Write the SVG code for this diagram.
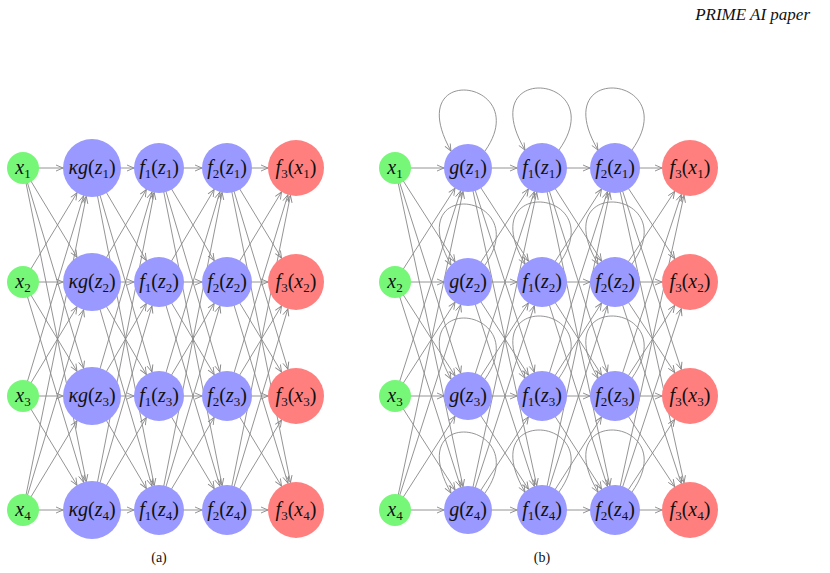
<svg xmlns="http://www.w3.org/2000/svg" width="830" height="573" viewBox="0 0 830 573">
<style>
.e line,.e path{stroke:#888;stroke-width:0.9;fill:none}
.m24{marker-end:url(#m24)}.m25{marker-end:url(#m25)}.m28{marker-end:url(#m28)}.m29{marker-end:url(#m29)}.m0{marker-end:url(#m0)}
.in{fill:#77f777}.hid{fill:#9999ff}.out{fill:#ff7f7f}
text{font-family:"Liberation Serif",serif;font-style:italic;font-size:20px;fill:#111;text-anchor:middle}
.s{font-size:13px}
.up{font-style:normal}
</style>
<defs>
<marker id="m24" markerUnits="userSpaceOnUse" refX="31" refY="0" markerWidth="80" markerHeight="10" viewBox="-1 -4 80 8" orient="auto" overflow="visible"><path d="M0,-3 L7,0 L0,3" fill="none" stroke="#888" stroke-width="0.9"/></marker>
<marker id="m25" markerUnits="userSpaceOnUse" refX="32" refY="0" markerWidth="80" markerHeight="10" viewBox="-1 -4 80 8" orient="auto" overflow="visible"><path d="M0,-3 L7,0 L0,3" fill="none" stroke="#888" stroke-width="0.9"/></marker>
<marker id="m28" markerUnits="userSpaceOnUse" refX="35" refY="0" markerWidth="80" markerHeight="10" viewBox="-1 -4 80 8" orient="auto" overflow="visible"><path d="M0,-3 L7,0 L0,3" fill="none" stroke="#888" stroke-width="0.9"/></marker>
<marker id="m29" markerUnits="userSpaceOnUse" refX="36" refY="0" markerWidth="80" markerHeight="10" viewBox="-1 -4 80 8" orient="auto" overflow="visible"><path d="M0,-3 L7,0 L0,3" fill="none" stroke="#888" stroke-width="0.9"/></marker>
<marker id="m0" markerUnits="userSpaceOnUse" refX="7" refY="0" markerWidth="10" markerHeight="10" viewBox="-1 -4 10 8" orient="auto" overflow="visible"><path d="M0,-3 L7,0 L0,3" fill="none" stroke="#888" stroke-width="0.9"/></marker>
</defs>
<text x="810" y="20" style="font-size:17px;text-anchor:end">PRIME AI paper</text>
<g id="connectors" class="e">
<g class="m29">
<line x1="23" y1="168" x2="92" y2="168"/><line x1="23" y1="168" x2="92" y2="282"/><line x1="23" y1="168" x2="92" y2="396"/><line x1="23" y1="168" x2="92" y2="510"/>
<line x1="23" y1="282" x2="92" y2="168"/><line x1="23" y1="282" x2="92" y2="282"/><line x1="23" y1="282" x2="92" y2="396"/><line x1="23" y1="282" x2="92" y2="510"/>
<line x1="23" y1="396" x2="92" y2="168"/><line x1="23" y1="396" x2="92" y2="282"/><line x1="23" y1="396" x2="92" y2="396"/><line x1="23" y1="396" x2="92" y2="510"/>
<line x1="23" y1="510" x2="92" y2="168"/><line x1="23" y1="510" x2="92" y2="282"/><line x1="23" y1="510" x2="92" y2="396"/><line x1="23" y1="510" x2="92" y2="510"/>
</g>
<g class="m25">
<line x1="92" y1="168" x2="159" y2="168"/><line x1="92" y1="168" x2="159" y2="282"/><line x1="92" y1="168" x2="159" y2="396"/><line x1="92" y1="168" x2="159" y2="510"/>
<line x1="92" y1="282" x2="159" y2="168"/><line x1="92" y1="282" x2="159" y2="282"/><line x1="92" y1="282" x2="159" y2="396"/><line x1="92" y1="282" x2="159" y2="510"/>
<line x1="92" y1="396" x2="159" y2="168"/><line x1="92" y1="396" x2="159" y2="282"/><line x1="92" y1="396" x2="159" y2="396"/><line x1="92" y1="396" x2="159" y2="510"/>
<line x1="92" y1="510" x2="159" y2="168"/><line x1="92" y1="510" x2="159" y2="282"/><line x1="92" y1="510" x2="159" y2="396"/><line x1="92" y1="510" x2="159" y2="510"/>
<line x1="159" y1="168" x2="227" y2="168"/><line x1="159" y1="168" x2="227" y2="282"/><line x1="159" y1="168" x2="227" y2="396"/><line x1="159" y1="168" x2="227" y2="510"/>
<line x1="159" y1="282" x2="227" y2="168"/><line x1="159" y1="282" x2="227" y2="282"/><line x1="159" y1="282" x2="227" y2="396"/><line x1="159" y1="282" x2="227" y2="510"/>
<line x1="159" y1="396" x2="227" y2="168"/><line x1="159" y1="396" x2="227" y2="282"/><line x1="159" y1="396" x2="227" y2="396"/><line x1="159" y1="396" x2="227" y2="510"/>
<line x1="159" y1="510" x2="227" y2="168"/><line x1="159" y1="510" x2="227" y2="282"/><line x1="159" y1="510" x2="227" y2="396"/><line x1="159" y1="510" x2="227" y2="510"/>
</g>
<g class="m28">
<line x1="227" y1="168" x2="296" y2="168"/><line x1="227" y1="168" x2="296" y2="282"/><line x1="227" y1="168" x2="296" y2="396"/><line x1="227" y1="168" x2="296" y2="510"/>
<line x1="227" y1="282" x2="296" y2="168"/><line x1="227" y1="282" x2="296" y2="282"/><line x1="227" y1="282" x2="296" y2="396"/><line x1="227" y1="282" x2="296" y2="510"/>
<line x1="227" y1="396" x2="296" y2="168"/><line x1="227" y1="396" x2="296" y2="282"/><line x1="227" y1="396" x2="296" y2="396"/><line x1="227" y1="396" x2="296" y2="510"/>
<line x1="227" y1="510" x2="296" y2="168"/><line x1="227" y1="510" x2="296" y2="282"/><line x1="227" y1="510" x2="296" y2="396"/><line x1="227" y1="510" x2="296" y2="510"/>
</g>
<g class="m24">
<line x1="395" y1="168" x2="468" y2="168"/><line x1="395" y1="168" x2="468" y2="282"/><line x1="395" y1="168" x2="468" y2="396"/><line x1="395" y1="168" x2="468" y2="510"/>
<line x1="395" y1="282" x2="468" y2="168"/><line x1="395" y1="282" x2="468" y2="282"/><line x1="395" y1="282" x2="468" y2="396"/><line x1="395" y1="282" x2="468" y2="510"/>
<line x1="395" y1="396" x2="468" y2="168"/><line x1="395" y1="396" x2="468" y2="282"/><line x1="395" y1="396" x2="468" y2="396"/><line x1="395" y1="396" x2="468" y2="510"/>
<line x1="395" y1="510" x2="468" y2="168"/><line x1="395" y1="510" x2="468" y2="282"/><line x1="395" y1="510" x2="468" y2="396"/><line x1="395" y1="510" x2="468" y2="510"/>
</g>
<g class="m25">
<line x1="468" y1="168" x2="542" y2="168"/><line x1="468" y1="168" x2="542" y2="282"/><line x1="468" y1="168" x2="542" y2="396"/><line x1="468" y1="168" x2="542" y2="510"/>
<line x1="468" y1="282" x2="542" y2="168"/><line x1="468" y1="282" x2="542" y2="282"/><line x1="468" y1="282" x2="542" y2="396"/><line x1="468" y1="282" x2="542" y2="510"/>
<line x1="468" y1="396" x2="542" y2="168"/><line x1="468" y1="396" x2="542" y2="282"/><line x1="468" y1="396" x2="542" y2="396"/><line x1="468" y1="396" x2="542" y2="510"/>
<line x1="468" y1="510" x2="542" y2="168"/><line x1="468" y1="510" x2="542" y2="282"/><line x1="468" y1="510" x2="542" y2="396"/><line x1="468" y1="510" x2="542" y2="510"/>
<line x1="542" y1="168" x2="615" y2="168"/><line x1="542" y1="168" x2="615" y2="282"/><line x1="542" y1="168" x2="615" y2="396"/><line x1="542" y1="168" x2="615" y2="510"/>
<line x1="542" y1="282" x2="615" y2="168"/><line x1="542" y1="282" x2="615" y2="282"/><line x1="542" y1="282" x2="615" y2="396"/><line x1="542" y1="282" x2="615" y2="510"/>
<line x1="542" y1="396" x2="615" y2="168"/><line x1="542" y1="396" x2="615" y2="282"/><line x1="542" y1="396" x2="615" y2="396"/><line x1="542" y1="396" x2="615" y2="510"/>
<line x1="542" y1="510" x2="615" y2="168"/><line x1="542" y1="510" x2="615" y2="282"/><line x1="542" y1="510" x2="615" y2="396"/><line x1="542" y1="510" x2="615" y2="510"/>
</g>
<g class="m28">
<line x1="615" y1="168" x2="690" y2="168"/><line x1="615" y1="168" x2="690" y2="282"/><line x1="615" y1="168" x2="690" y2="396"/><line x1="615" y1="168" x2="690" y2="510"/>
<line x1="615" y1="282" x2="690" y2="168"/><line x1="615" y1="282" x2="690" y2="282"/><line x1="615" y1="282" x2="690" y2="396"/><line x1="615" y1="282" x2="690" y2="510"/>
<line x1="615" y1="396" x2="690" y2="168"/><line x1="615" y1="396" x2="690" y2="282"/><line x1="615" y1="396" x2="690" y2="396"/><line x1="615" y1="396" x2="690" y2="510"/>
<line x1="615" y1="510" x2="690" y2="168"/><line x1="615" y1="510" x2="690" y2="282"/><line x1="615" y1="510" x2="690" y2="396"/><line x1="615" y1="510" x2="690" y2="510"/>
</g>
<g class="m0">
<path d="M485,151 C535,80 400,60 451,151"/><path d="M559,150 C612,75 472,60 525,150"/><path d="M632,150 C685,75 545,60 598,150"/>
<path d="M485,265 C535,194 400,174 451,265"/><path d="M559,264 C612,189 472,174 525,264"/><path d="M632,264 C685,189 545,174 598,264"/>
<path d="M485,379 C535,308 400,288 451,379"/><path d="M559,378 C612,303 472,288 525,378"/><path d="M632,378 C685,303 545,288 598,378"/>
<path d="M485,493 C535,422 400,402 451,493"/><path d="M559,492 C612,417 472,402 525,492"/><path d="M632,492 C685,417 545,402 598,492"/>
</g>
</g>
<g id="a-x1"><circle class="in" cx="23" cy="168" r="16"/><text x="23" y="174">x<tspan class="s up" dy="4">1</tspan></text></g>
<g id="a-x2"><circle class="in" cx="23" cy="282" r="16"/><text x="23" y="288">x<tspan class="s up" dy="4">2</tspan></text></g>
<g id="a-x3"><circle class="in" cx="23" cy="396" r="16"/><text x="23" y="402">x<tspan class="s up" dy="4">3</tspan></text></g>
<g id="a-x4"><circle class="in" cx="23" cy="510" r="16"/><text x="23" y="516">x<tspan class="s up" dy="4">4</tspan></text></g>
<g id="a-g1"><circle class="hid" cx="92" cy="168" r="29"/><text x="92" y="174">κg<tspan class="up">(</tspan>z<tspan class="s up" dy="4">1</tspan><tspan class="up" dy="-4">)</tspan></text></g>
<g id="a-g2"><circle class="hid" cx="92" cy="282" r="29"/><text x="92" y="288">κg<tspan class="up">(</tspan>z<tspan class="s up" dy="4">2</tspan><tspan class="up" dy="-4">)</tspan></text></g>
<g id="a-g3"><circle class="hid" cx="92" cy="396" r="29"/><text x="92" y="402">κg<tspan class="up">(</tspan>z<tspan class="s up" dy="4">3</tspan><tspan class="up" dy="-4">)</tspan></text></g>
<g id="a-g4"><circle class="hid" cx="92" cy="510" r="29"/><text x="92" y="516">κg<tspan class="up">(</tspan>z<tspan class="s up" dy="4">4</tspan><tspan class="up" dy="-4">)</tspan></text></g>
<g id="a-f1-1"><circle class="hid" cx="159" cy="168" r="25"/><text x="159" y="174">f<tspan class="s up" dy="4">1</tspan><tspan class="up" dy="-4">(</tspan>z<tspan class="s up" dy="4">1</tspan><tspan class="up" dy="-4">)</tspan></text></g>
<g id="a-f1-2"><circle class="hid" cx="159" cy="282" r="25"/><text x="159" y="288">f<tspan class="s up" dy="4">1</tspan><tspan class="up" dy="-4">(</tspan>z<tspan class="s up" dy="4">2</tspan><tspan class="up" dy="-4">)</tspan></text></g>
<g id="a-f1-3"><circle class="hid" cx="159" cy="396" r="25"/><text x="159" y="402">f<tspan class="s up" dy="4">1</tspan><tspan class="up" dy="-4">(</tspan>z<tspan class="s up" dy="4">3</tspan><tspan class="up" dy="-4">)</tspan></text></g>
<g id="a-f1-4"><circle class="hid" cx="159" cy="510" r="25"/><text x="159" y="516">f<tspan class="s up" dy="4">1</tspan><tspan class="up" dy="-4">(</tspan>z<tspan class="s up" dy="4">4</tspan><tspan class="up" dy="-4">)</tspan></text></g>
<g id="a-f2-1"><circle class="hid" cx="227" cy="168" r="25"/><text x="227" y="174">f<tspan class="s up" dy="4">2</tspan><tspan class="up" dy="-4">(</tspan>z<tspan class="s up" dy="4">1</tspan><tspan class="up" dy="-4">)</tspan></text></g>
<g id="a-f2-2"><circle class="hid" cx="227" cy="282" r="25"/><text x="227" y="288">f<tspan class="s up" dy="4">2</tspan><tspan class="up" dy="-4">(</tspan>z<tspan class="s up" dy="4">2</tspan><tspan class="up" dy="-4">)</tspan></text></g>
<g id="a-f2-3"><circle class="hid" cx="227" cy="396" r="25"/><text x="227" y="402">f<tspan class="s up" dy="4">2</tspan><tspan class="up" dy="-4">(</tspan>z<tspan class="s up" dy="4">3</tspan><tspan class="up" dy="-4">)</tspan></text></g>
<g id="a-f2-4"><circle class="hid" cx="227" cy="510" r="25"/><text x="227" y="516">f<tspan class="s up" dy="4">2</tspan><tspan class="up" dy="-4">(</tspan>z<tspan class="s up" dy="4">4</tspan><tspan class="up" dy="-4">)</tspan></text></g>
<g id="a-f3-1"><circle class="out" cx="296" cy="168" r="28"/><text x="296" y="174">f<tspan class="s up" dy="4">3</tspan><tspan class="up" dy="-4">(</tspan>x<tspan class="s up" dy="4">1</tspan><tspan class="up" dy="-4">)</tspan></text></g>
<g id="a-f3-2"><circle class="out" cx="296" cy="282" r="28"/><text x="296" y="288">f<tspan class="s up" dy="4">3</tspan><tspan class="up" dy="-4">(</tspan>x<tspan class="s up" dy="4">2</tspan><tspan class="up" dy="-4">)</tspan></text></g>
<g id="a-f3-3"><circle class="out" cx="296" cy="396" r="28"/><text x="296" y="402">f<tspan class="s up" dy="4">3</tspan><tspan class="up" dy="-4">(</tspan>x<tspan class="s up" dy="4">3</tspan><tspan class="up" dy="-4">)</tspan></text></g>
<g id="a-f3-4"><circle class="out" cx="296" cy="510" r="28"/><text x="296" y="516">f<tspan class="s up" dy="4">3</tspan><tspan class="up" dy="-4">(</tspan>x<tspan class="s up" dy="4">4</tspan><tspan class="up" dy="-4">)</tspan></text></g>
<g id="b-x1"><circle class="in" cx="395" cy="168" r="16"/><text x="395" y="174">x<tspan class="s up" dy="4">1</tspan></text></g>
<g id="b-x2"><circle class="in" cx="395" cy="282" r="16"/><text x="395" y="288">x<tspan class="s up" dy="4">2</tspan></text></g>
<g id="b-x3"><circle class="in" cx="395" cy="396" r="16"/><text x="395" y="402">x<tspan class="s up" dy="4">3</tspan></text></g>
<g id="b-x4"><circle class="in" cx="395" cy="510" r="16"/><text x="395" y="516">x<tspan class="s up" dy="4">4</tspan></text></g>
<g id="b-g1"><circle class="hid" cx="468" cy="168" r="24"/><text x="468" y="174">g<tspan class="up">(</tspan>z<tspan class="s up" dy="4">1</tspan><tspan class="up" dy="-4">)</tspan></text></g>
<g id="b-g2"><circle class="hid" cx="468" cy="282" r="24"/><text x="468" y="288">g<tspan class="up">(</tspan>z<tspan class="s up" dy="4">2</tspan><tspan class="up" dy="-4">)</tspan></text></g>
<g id="b-g3"><circle class="hid" cx="468" cy="396" r="24"/><text x="468" y="402">g<tspan class="up">(</tspan>z<tspan class="s up" dy="4">3</tspan><tspan class="up" dy="-4">)</tspan></text></g>
<g id="b-g4"><circle class="hid" cx="468" cy="510" r="24"/><text x="468" y="516">g<tspan class="up">(</tspan>z<tspan class="s up" dy="4">4</tspan><tspan class="up" dy="-4">)</tspan></text></g>
<g id="b-f1-1"><circle class="hid" cx="542" cy="168" r="25"/><text x="542" y="174">f<tspan class="s up" dy="4">1</tspan><tspan class="up" dy="-4">(</tspan>z<tspan class="s up" dy="4">1</tspan><tspan class="up" dy="-4">)</tspan></text></g>
<g id="b-f1-2"><circle class="hid" cx="542" cy="282" r="25"/><text x="542" y="288">f<tspan class="s up" dy="4">1</tspan><tspan class="up" dy="-4">(</tspan>z<tspan class="s up" dy="4">2</tspan><tspan class="up" dy="-4">)</tspan></text></g>
<g id="b-f1-3"><circle class="hid" cx="542" cy="396" r="25"/><text x="542" y="402">f<tspan class="s up" dy="4">1</tspan><tspan class="up" dy="-4">(</tspan>z<tspan class="s up" dy="4">3</tspan><tspan class="up" dy="-4">)</tspan></text></g>
<g id="b-f1-4"><circle class="hid" cx="542" cy="510" r="25"/><text x="542" y="516">f<tspan class="s up" dy="4">1</tspan><tspan class="up" dy="-4">(</tspan>z<tspan class="s up" dy="4">4</tspan><tspan class="up" dy="-4">)</tspan></text></g>
<g id="b-f2-1"><circle class="hid" cx="615" cy="168" r="25"/><text x="615" y="174">f<tspan class="s up" dy="4">2</tspan><tspan class="up" dy="-4">(</tspan>z<tspan class="s up" dy="4">1</tspan><tspan class="up" dy="-4">)</tspan></text></g>
<g id="b-f2-2"><circle class="hid" cx="615" cy="282" r="25"/><text x="615" y="288">f<tspan class="s up" dy="4">2</tspan><tspan class="up" dy="-4">(</tspan>z<tspan class="s up" dy="4">2</tspan><tspan class="up" dy="-4">)</tspan></text></g>
<g id="b-f2-3"><circle class="hid" cx="615" cy="396" r="25"/><text x="615" y="402">f<tspan class="s up" dy="4">2</tspan><tspan class="up" dy="-4">(</tspan>z<tspan class="s up" dy="4">3</tspan><tspan class="up" dy="-4">)</tspan></text></g>
<g id="b-f2-4"><circle class="hid" cx="615" cy="510" r="25"/><text x="615" y="516">f<tspan class="s up" dy="4">2</tspan><tspan class="up" dy="-4">(</tspan>z<tspan class="s up" dy="4">4</tspan><tspan class="up" dy="-4">)</tspan></text></g>
<g id="b-f3-1"><circle class="out" cx="690" cy="168" r="28"/><text x="690" y="174">f<tspan class="s up" dy="4">3</tspan><tspan class="up" dy="-4">(</tspan>x<tspan class="s up" dy="4">1</tspan><tspan class="up" dy="-4">)</tspan></text></g>
<g id="b-f3-2"><circle class="out" cx="690" cy="282" r="28"/><text x="690" y="288">f<tspan class="s up" dy="4">3</tspan><tspan class="up" dy="-4">(</tspan>x<tspan class="s up" dy="4">2</tspan><tspan class="up" dy="-4">)</tspan></text></g>
<g id="b-f3-3"><circle class="out" cx="690" cy="396" r="28"/><text x="690" y="402">f<tspan class="s up" dy="4">3</tspan><tspan class="up" dy="-4">(</tspan>x<tspan class="s up" dy="4">3</tspan><tspan class="up" dy="-4">)</tspan></text></g>
<g id="b-f3-4"><circle class="out" cx="690" cy="510" r="28"/><text x="690" y="516">f<tspan class="s up" dy="4">3</tspan><tspan class="up" dy="-4">(</tspan>x<tspan class="s up" dy="4">4</tspan><tspan class="up" dy="-4">)</tspan></text></g>
<text x="159" y="562" class="up" style="font-size:14px">(a)</text>
<text x="542" y="562" class="up" style="font-size:14px">(b)</text>
</svg>
